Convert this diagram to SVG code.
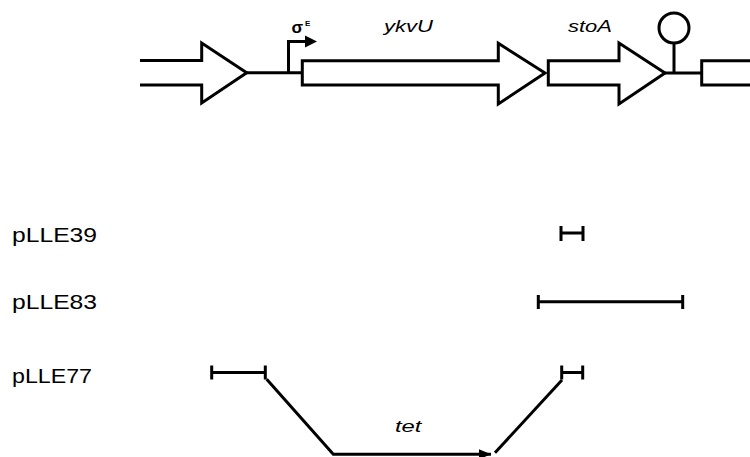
<svg xmlns="http://www.w3.org/2000/svg" width="750" height="457" viewBox="0 0 750 457">
<style>
.gene{fill:#fff;stroke:#000;stroke-width:3;stroke-linejoin:miter}
.ln{fill:none;stroke:#000;stroke-width:3}
.bar{fill:none;stroke:#000;stroke-width:3}
.lbl{font-family:"Liberation Sans",Arial,sans-serif;font-size:21px;fill:#000}
.it{font-family:"Liberation Sans",Arial,sans-serif;font-size:17px;font-style:italic;fill:#000}
</style>
<defs>
<marker id="ah" viewBox="0 0 12 10" refX="12" refY="5" markerWidth="12" markerHeight="10" markerUnits="userSpaceOnUse" orient="auto">
<path d="M0,0 L12,5 L0,10 Z" fill="#000"/>
</marker>
</defs>
<rect width="750" height="457" fill="#fff"/>
<g id="connectors">
<line class="ln" x1="246" y1="72.7" x2="302" y2="72.7"/>
<line class="ln" x1="665" y1="73" x2="702" y2="73"/>
<polyline class="ln" points="266.7,379.3 333.3,454.3 491,454.3" marker-end="url(#ah)"/>
<line class="ln" x1="495" y1="452.7" x2="562" y2="380"/>
</g>
<g id="gene-upstream">
<path class="gene" d="M140,60.5 H201.7 V43 L246.7,72.7 L201.7,103 V85 H140"/>
</g>
<g id="promoter">
<polyline class="ln" points="288.5,72.7 288.5,41.5 306,41.5"/>
<path d="M305,35.5 L317,41.5 L305,47.5 Z" fill="#000"/>
<text x="291.5" y="33" font-family="'Liberation Sans',Arial,sans-serif" font-size="17" font-weight="bold">σ</text>
<text x="305" y="26" font-family="'Liberation Sans',Arial,sans-serif" font-size="8" font-weight="bold">E</text>
</g>
<g id="gene-ykvU">
<path class="gene" d="M302.3,60.7 H498.3 V43.3 L545,73 L498.3,104 V85 H302.3 Z"/>
<text class="it" x="384" y="32" textLength="49" lengthAdjust="spacingAndGlyphs">ykvU</text>
</g>
<g id="gene-stoA">
<path class="gene" d="M548.3,60.7 H619 V43 L665,73 L619,104 V85 H548.3 Z"/>
<text class="it" x="568" y="32" textLength="44" lengthAdjust="spacingAndGlyphs">stoA</text>
</g>
<g id="terminator">
<line class="ln" x1="674" y1="73" x2="674" y2="43"/>
<circle cx="674" cy="28" r="15" fill="#fff" stroke="#000" stroke-width="3"/>
</g>
<g id="gene-downstream">
<path class="gene" d="M760,60.7 H701.7 V85 H760"/>
</g>
<g id="pLLE39">
<text class="lbl" x="12" y="242" textLength="85" lengthAdjust="spacingAndGlyphs">pLLE39</text>
<path class="bar" d="M561,233 H583 M561,226 V241 M583,226 V241"/>
</g>
<g id="pLLE83">
<text class="lbl" x="12" y="309" textLength="85" lengthAdjust="spacingAndGlyphs">pLLE83</text>
<path class="bar" d="M538.3,301.7 H682.7 M538.3,295 V309 M682.7,295 V309"/>
</g>
<g id="pLLE77">
<text class="lbl" x="12" y="383" textLength="80" lengthAdjust="spacingAndGlyphs">pLLE77</text>
<path class="bar" d="M211.7,372.5 H265.3 M211.7,365.5 V379.5 M265.3,365.5 V379.5"/>
<path class="bar" d="M561.7,372.5 H582.7 M561.7,365.5 V379.5 M582.7,365.5 V379.5"/>
<text class="it" x="395" y="431.5" textLength="26.5" lengthAdjust="spacingAndGlyphs">tet</text>
</g>
</svg>
